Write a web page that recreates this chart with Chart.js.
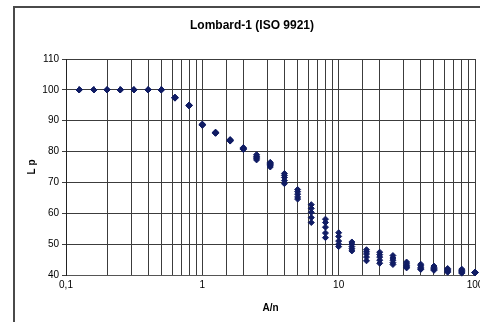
<!DOCTYPE html>
<html>
<head>
<meta charset="utf-8">
<script src="https://cdn.jsdelivr.net/npm/chart.js@4.4.1/dist/chart.umd.min.js"></script>
<style>
    html, body { margin: 0; padding: 0; background: #ffffff; }
    #wrap { width: 480px; height: 322px; position: relative; }
</style>
</head>
<body>
<div id="wrap"><canvas id="lombard-chart"></canvas></div>
<script>
// A/n (1/3 octave steps)
const aOverN = [0.125, 0.16, 0.2, 0.25, 0.315, 0.4, 0.5, 0.63, 0.8, 1, 1.25, 1.6, 2, 2.5, 3.15,
                4, 5, 6.3, 8, 10, 12.5, 16, 20, 25, 31.5, 40, 50, 63, 80, 100];

// Lp - five measurement runs
const lpRun1 = [100, 100, 100, 100, 100, 100, 100, 97.6, 95.1, 88.9, 86.3, 83.9, 81.3, 79.0, 76.5,
                72.9, 67.7, 62.8, 58.1, 53.7, 50.7, 48.2, 47.4, 46.3, 44.2, 43.5, 42.9, 42.1, 41.9, 40.9];
const lpRun2 = [100, 100, 100, 100, 100, 100, 100, 97.5, 95.0, 88.8, 86.2, 83.7, 81.1, 78.5, 76.1,
                72.3, 67.0, 61.6, 57.0, 52.5, 50.0, 47.5, 46.6, 45.5, 43.6, 43.0, 42.5, 41.8, 41.5, 40.9];
const lpRun3 = [100, 100, 100, 100, 100, 100, 100, 97.4, 94.9, 88.7, 86.1, 83.6, 81.0, 78.2, 75.8,
                71.6, 66.2, 60.3, 55.5, 51.0, 49.2, 46.8, 45.8, 44.8, 43.0, 42.5, 42.1, 41.5, 41.2, 40.8];
const lpRun4 = [100, 100, 100, 100, 100, 100, 100, 97.5, 95.0, 88.6, 86.0, 83.5, 80.8, 77.8, 75.4,
                70.6, 65.3, 58.6, 53.6, 50.0, 48.5, 45.8, 44.8, 44.0, 42.6, 42.0, 41.8, 41.2, 40.9, 40.8];
const lpRun5 = [100, 100, 100, 100, 100, 100, 100, 97.3, 94.8, 88.5, 85.9, 83.4, 80.7, 77.3, 75.0,
                69.6, 64.6, 57.0, 52.1, 49.2, 47.8, 44.6, 43.8, 43.4, 42.3, 41.8, 41.5, 40.9, 40.6, 40.7];

// axis labels
const xDecades = [0.1, 1, 10, 100];
const xDecadeLabels = ['0,1', '1', '10', '100'];

const markerColor = '#101c64';

function toPoints(values) {
    return aOverN.map((x, i) => ({ x: x, y: values[i] }));
}

function makeDataset(label, values) {
    return {
        label: label,
        data: toPoints(values),
        showLine: false,
        pointStyle: 'rectRot',
        pointRadius: 3,
        pointBorderWidth: 1,
        backgroundColor: markerColor,
        borderColor: markerColor,
        clip: false
    };
}

// frame around the chart (top and left edges visible)
const framePlugin = {
    id: 'frame',
    beforeDraw(chart) {
        const ctx = chart.ctx;
        ctx.save();
        ctx.strokeStyle = '#4a4a4a';
        ctx.lineWidth = 2;
        ctx.beginPath();
        ctx.moveTo(14, 322);
        ctx.lineTo(14, 7);
        ctx.lineTo(480, 7);
        ctx.stroke();
        ctx.restore();
    }
};

const ctx = document.getElementById('lombard-chart');

new Chart(ctx, {
    type: 'scatter',
    data: {
        datasets: [
            makeDataset('Run 1', lpRun1),
            makeDataset('Run 2', lpRun2),
            makeDataset('Run 3', lpRun3),
            makeDataset('Run 4', lpRun4),
            makeDataset('Run 5', lpRun5)
        ]
    },
    options: {
        responsive: true,
        maintainAspectRatio: false,
        animation: false,
        layout: {
            padding: { left: 26, right: 2, top: 8, bottom: 0 }
        },
        plugins: {
            legend: { display: false },
            tooltip: { enabled: false },
            title: {
                display: true,
                text: 'Lombard-1 (ISO 9921)',
                color: '#000000',
                font: { family: 'Arial, "Liberation Sans"', size: 12, weight: 'bold' },
                padding: { top: 10, bottom: 26.6 }
            }
        },
        scales: {
            x: {
                type: 'logarithmic',
                min: 0.1,
                max: 100,
                title: {
                    display: true,
                    text: 'A/n',
                    color: '#000000',
                    font: { family: 'Arial, "Liberation Sans"', size: 10, weight: 'bold' },
                    padding: { top: 0, bottom: 8 }
                },
                ticks: {
                    autoSkip: false,
                    maxRotation: 0,
                    padding: 4,
                    color: '#000000',
                    font: { family: 'Arial, "Liberation Sans"', size: 10 },
                    callback: function(value) {
                        const i = xDecades.findIndex(d => Math.abs(Math.log10(d) - Math.log10(value)) < 1e-6);
                        return i >= 0 ? xDecadeLabels[i] : '';
                    }
                },
                grid: {
                    color: '#3c3c3c',
                    lineWidth: 1,
                    drawTicks: false
                },
                border: { color: '#555555', width: 1 },
                afterFit: function(scale) {
                    scale.height = 47;
                    scale.paddingLeft = 0;
                    scale.paddingRight = 4;
                }
            },
            y: {
                type: 'linear',
                min: 40,
                max: 110,
                title: {
                    display: true,
                    text: 'L p',
                    color: '#000000',
                    font: { family: 'Arial, "Liberation Sans"', size: 10, weight: 'bold' },
                    padding: { top: 0, bottom: 0 }
                },
                ticks: {
                    stepSize: 10,
                    padding: 3,
                    color: '#000000',
                    font: { family: 'Arial, "Liberation Sans"', size: 10 }
                },
                grid: {
                    color: '#3c3c3c',
                    lineWidth: 1,
                    tickLength: 4
                },
                border: { color: '#222222', width: 1 },
                afterFit: function(scale) {
                    scale.width = 40;
                    scale.paddingTop = 0;
                    scale.paddingBottom = 0;
                }
            }
        }
    },
    plugins: [framePlugin]
});
</script>
</body>
</html>
